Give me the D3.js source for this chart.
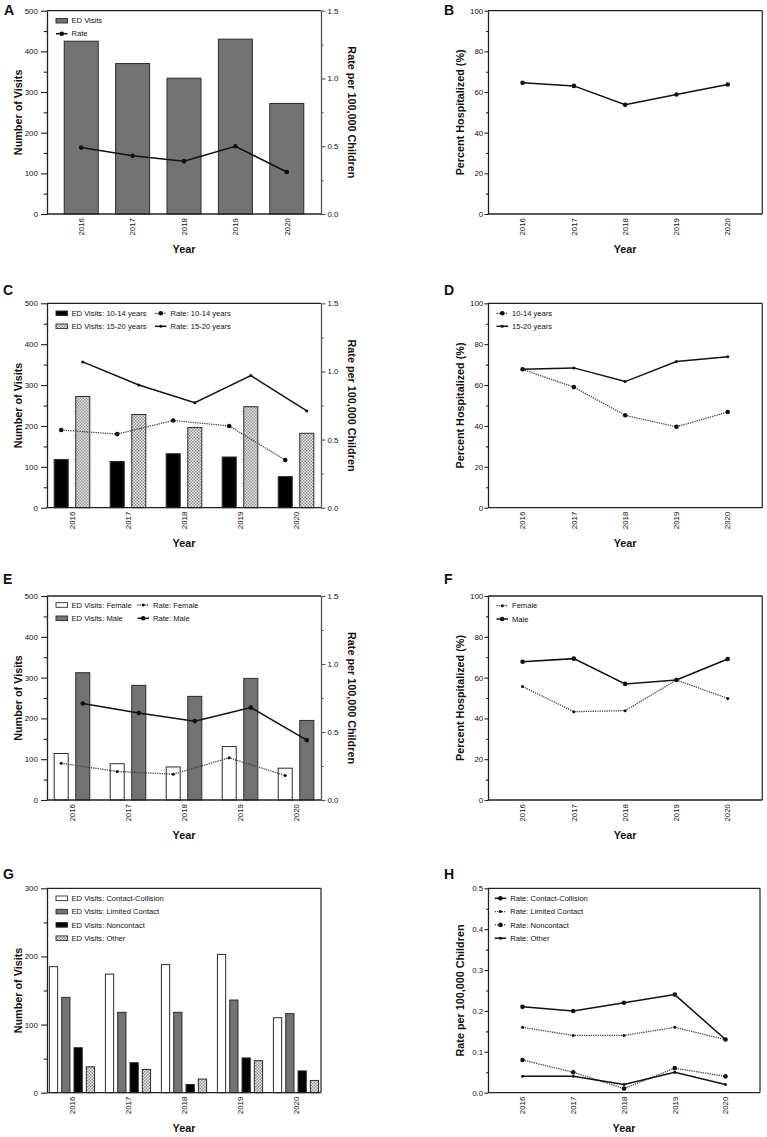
<!DOCTYPE html>
<html><head><meta charset="utf-8">
<script src="https://cdn.jsdelivr.net/npm/d3@7"></script>
<style>
body{margin:0;background:#fff}
text{font-family:"Liberation Sans",Arial,Helvetica,sans-serif;fill:#111}
</style>
</head><body>
<svg id="c" width="767" height="1137"></svg>
<script>
// ---------- data ----------
const years = ["2016","2017","2018","2019","2020"];
// A
const visitsA = [425, 370, 334, 430, 272];
const rateA = [0.49, 0.43, 0.39, 0.50, 0.31];
// B
const hospB = [64.5, 63.0, 53.7, 58.8, 63.7];
// C
const visits1014 = [118, 113, 132, 124, 76];
const visits1520 = [272, 228, 196, 247, 182];
const rate1014 = [0.57, 0.54, 0.64, 0.60, 0.35];
const rate1520 = [1.07, 0.90, 0.77, 0.97, 0.71];
// D
const hosp1014 = [67.7, 59.0, 45.2, 39.6, 46.8];
const hosp1520 = [67.7, 68.4, 61.7, 71.5, 73.9];
// E
const visitsFemale = [114, 89, 81, 131, 78];
const visitsMale = [312, 281, 254, 298, 195];
const rateFemale = [0.27, 0.21, 0.19, 0.31, 0.18];
const rateMale = [0.71, 0.64, 0.58, 0.68, 0.44];
// F
const hospFemale = [55.6, 43.3, 43.8, 58.8, 49.8];
const hospMale = [67.8, 69.3, 56.9, 58.8, 69.1];
// G
const visitsCC = [185, 174, 188, 203, 110];
const visitsLC = [140, 118, 118, 136, 116];
const visitsNC = [66, 44, 12, 51, 32];
const visitsOther = [38, 34, 20, 47, 18];
// H
const rateCC = [0.21, 0.20, 0.22, 0.24, 0.13];
const rateLC = [0.16, 0.14, 0.14, 0.16, 0.13];
const rateNC = [0.08, 0.05, 0.01, 0.06, 0.04];
const rateOther = [0.04, 0.04, 0.02, 0.05, 0.02];

// ---------- styles ----------
const svg = d3.select("#c");
const defs = svg.append("defs");
const pat = defs.append("pattern").attr("id","dots").attr("patternUnits","userSpaceOnUse")
  .attr("width",3).attr("height",3);
pat.append("rect").attr("width",3).attr("height",3).attr("fill","#f0f0f0");
pat.append("rect").attr("width",1.5).attr("height",1.5).attr("fill","#8c8c8c");
pat.append("rect").attr("x",1.5).attr("y",1.5).attr("width",1.5).attr("height",1.5).attr("fill","#8c8c8c");

const barFill = {gray:"#737373", white:"#ffffff", black:"#000000", dots:"url(#dots)"};
const lineSt = {
  solidBig:{dash:null, color:"#111", w:1.5, r:2.3},
  solidSmall:{dash:null, color:"#111", w:1.5, r:1.5},
  dotBig:{dash:"1.3,1", color:"#444", w:1.3, r:2.3},
  dotSmall:{dash:"1.3,1", color:"#444", w:1.3, r:1.5}
};
const TICK_FS = "7.9px", TITLE_FS = "10.8px", LEG_FS = "7.6px";

// ---------- panels ----------
const panels = [
  {letter:"A", lx:4, ly:15, x0:47, x1:321, y0:10.7, y1:214, xPad:0.666,
   yMax:500, yMaj:100, yMin:50, yFmt:"d", yTitle:"Number of Visits", yTitleX:22, tick:6, pad:3.2,
   rMax:1.5, rMaj:0.5, rMin:0.25, rFmt:".1f", rTitle:"Rate per 100,000 Children",
   inner:[-17,17], pIn:0,
   bars:[{v:visitsA, s:"gray", label:"ED Visits"}],
   lines:[{v:rateA, s:"solidBig", label:"Rate", right:true}],
   legend:[{k:"bar",i:0,x:56,y:20.7},{k:"line",i:0,x:56,y:33.7}]},
  {letter:"B", lx:444, ly:15, x0:488, x1:762.3, y0:10.7, y1:214, xPad:0.674,
   yMax:100, yMaj:20, yMin:10, yFmt:"d", yTitle:"Percent Hospitalized (%)", yTitleX:464, tick:3.5, pad:1.3,
   bars:[], lines:[{v:hospB, s:"solidBig", label:""}], legend:[]},
  {letter:"C", lx:3, ly:295, x0:47, x1:321, y0:303.3, y1:507.7, xPad:0.446,
   yMax:500, yMaj:100, yMin:50, yFmt:"d", yTitle:"Number of Visits", yTitleX:22, tick:6, pad:3.2,
   rMax:1.5, rMaj:0.5, rMin:0.25, rFmt:".1f", rTitle:"Rate per 100,000 Children",
   inner:[-17.8,17.8], pIn:0.35,
   bars:[{v:visits1014, s:"black", label:"ED Visits: 10-14 years"},
         {v:visits1520, s:"dots", label:"ED Visits: 15-20 years"}],
   lines:[{v:rate1014, s:"dotBig", label:"Rate: 10-14 years", right:true, bar:0},
          {v:rate1520, s:"solidSmall", label:"Rate: 15-20 years", right:true, bar:1}],
   legend:[{k:"bar",i:0,x:56,y:313.3},{k:"bar",i:1,x:56,y:326.3},
           {k:"line",i:0,x:155,y:313.3},{k:"line",i:1,x:155,y:326.3}]},
  {letter:"D", lx:444, ly:295, x0:488, x1:762.3, y0:303.3, y1:507.7, xPad:0.674,
   yMax:100, yMaj:20, yMin:10, yFmt:"d", yTitle:"Percent Hospitalized (%)", yTitleX:464, tick:3.5, pad:1.3,
   bars:[], lines:[{v:hosp1014, s:"dotBig", label:"10-14 years"},{v:hosp1520, s:"solidSmall", label:"15-20 years"}],
   legend:[{k:"line",i:0,x:496.5,y:313.3},{k:"line",i:1,x:496.5,y:326.3}]},
  {letter:"E", lx:3, ly:584, x0:47, x1:321, y0:596, y1:800, xPad:0.446,
   yMax:500, yMaj:100, yMin:50, yFmt:"d", yTitle:"Number of Visits", yTitleX:22, tick:6, pad:3.2,
   rMax:1.5, rMaj:0.5, rMin:0.25, rFmt:".1f", rTitle:"Rate per 100,000 Children",
   inner:[-17.8,17.8], pIn:0.35,
   bars:[{v:visitsFemale, s:"white", label:"ED Visits: Female"},
         {v:visitsMale, s:"gray", label:"ED Visits: Male"}],
   lines:[{v:rateFemale, s:"dotSmall", label:"Rate: Female", right:true, bar:0},
          {v:rateMale, s:"solidBig", label:"Rate: Male", right:true, bar:1}],
   legend:[{k:"bar",i:0,x:56,y:605},{k:"bar",i:1,x:56,y:618.3},
           {k:"line",i:0,x:137.5,y:605},{k:"line",i:1,x:137.5,y:618.3}]},
  {letter:"F", lx:444, ly:584, x0:488, x1:762.3, y0:596, y1:800, xPad:0.674,
   yMax:100, yMaj:20, yMin:10, yFmt:"d", yTitle:"Percent Hospitalized (%)", yTitleX:464, tick:3.5, pad:1.3,
   bars:[], lines:[{v:hospFemale, s:"dotSmall", label:"Female"},{v:hospMale, s:"solidBig", label:"Male"}],
   legend:[{k:"line",i:0,x:496.5,y:605.7},{k:"line",i:1,x:496.5,y:619}]},
  {letter:"G", lx:3, ly:879, x0:47, x1:321, y0:888.3, y1:1092.7, xPad:0.446,
   yMax:300, yMaj:100, yMin:50, yFmt:"d", yTitle:"Number of Visits", yTitleX:22, tick:6, pad:3.2, noRight:true,
   inner:[-22.6,22.6], pIn:0.33,
   bars:[{v:visitsCC, s:"white", label:"ED Visits: Contact-Collision"},
         {v:visitsLC, s:"gray", label:"ED Visits: Limited Contact"},
         {v:visitsNC, s:"black", label:"ED Visits: Noncontact"},
         {v:visitsOther, s:"dots", label:"ED Visits: Other"}],
   lines:[],
   legend:[{k:"bar",i:0,x:56,y:898.3},{k:"bar",i:1,x:56,y:911.6},{k:"bar",i:2,x:56,y:924.9},{k:"bar",i:3,x:56,y:938.2}]},
  {letter:"H", lx:444, ly:879, x0:488, x1:760, y0:888.3, y1:1092.7, xPad:0.68,
   yMax:0.5, yMaj:0.1, yMin:0.05, yFmt:".1f", yTitle:"Rate per 100,000 Children", yTitleX:464, tick:3.5, pad:1.3,
   bars:[], lines:[{v:rateCC, s:"solidBig", label:"Rate: Contact-Collision"},
                   {v:rateLC, s:"dotSmall", label:"Rate: Limited Contact"},
                   {v:rateNC, s:"dotBig", label:"Rate: Noncontact"},
                   {v:rateOther, s:"solidSmall", label:"Rate: Other"}],
   legend:[{k:"line",i:0,x:494.7,y:898.3},{k:"line",i:1,x:494.7,y:911.6},{k:"line",i:2,x:494.7,y:924.9},{k:"line",i:3,x:494.7,y:938.2}]}
];

function styleAxis(g, color){
  g.selectAll(".domain").attr("stroke",color).attr("stroke-width",1.3);
  g.selectAll(".tick line").attr("stroke",color).attr("stroke-width",1.1);
  g.selectAll(".tick text").attr("font-size",TICK_FS).attr("fill","#111")
    .attr("font-family",'"Liberation Sans",Arial,sans-serif');
}

function drawLine(g, pts, st){
  g.append("path").attr("d", d3.line()(pts)).attr("fill","none")
    .attr("stroke", st.color).attr("stroke-width", st.w)
    .attr("stroke-dasharray", st.dash);
  pts.forEach(p => g.append("circle").attr("cx",p[0]).attr("cy",p[1]).attr("r",st.r).attr("fill","#111"));
}

panels.forEach(p => {
  const g = svg.append("g");
  const x = d3.scalePoint().domain(years).range([p.x0, p.x1]).padding(p.xPad);
  const y = d3.scaleLinear().domain([0, p.yMax]).range([p.y1, p.y0]);
  const hasR = p.rMax !== undefined;
  const r = hasR ? d3.scaleLinear().domain([0, p.rMax]).range([p.y1, p.y0]) : null;
  const inner = p.bars.length ? d3.scaleBand().domain(d3.range(p.bars.length)).range(p.inner).paddingInner(p.pIn) : null;

  // bars
  p.bars.forEach((b, bi) => {
    g.selectAll(null).data(b.v).join("rect")
      .attr("x", (d,i) => x(years[i]) + inner(bi))
      .attr("width", inner.bandwidth())
      .attr("y", d => y(d)).attr("height", d => y(0) - y(d))
      .attr("fill", barFill[b.s]).attr("stroke","#2b2b2b").attr("stroke-width",1);
  });

  // frame
  g.append("line").attr("x1",p.x0).attr("x2",p.x1).attr("y1",p.y0).attr("y2",p.y0).attr("stroke","#222").attr("stroke-width",1.3);
  g.append("line").attr("x1",p.x0).attr("x2",p.x1).attr("y1",p.y1).attr("y2",p.y1).attr("stroke","#222").attr("stroke-width",1.3);
  if (!hasR) g.append("line").attr("x1",p.x1).attr("x2",p.x1).attr("y1",p.y0).attr("y2",p.y1).attr("stroke","#333").attr("stroke-width",1.3);

  // left axis
  const eps = p.yMaj/1000;
  const majL = d3.range(0, p.yMax + eps, p.yMaj);
  const minL = d3.range(p.yMin, p.yMax, p.yMaj);
  const gl = g.append("g").attr("transform",`translate(${p.x0},0)`)
    .call(d3.axisLeft(y).tickValues(majL).tickFormat(d3.format(p.yFmt)).tickSize(p.tick).tickSizeOuter(0).tickPadding(p.pad));
  styleAxis(gl, "#222");
  const glm = g.append("g").attr("transform",`translate(${p.x0},0)`)
    .call(d3.axisLeft(y).tickValues(minL).tickFormat("").tickSize(p.tick*0.55).tickSizeOuter(0));
  glm.select(".domain").remove(); styleAxis(glm, "#222");

  if (hasR) {
    const majR = d3.range(0, p.rMax + 0.001, p.rMaj);
    const minR = d3.range(p.rMin, p.rMax, p.rMaj);
    const gr = g.append("g").attr("transform",`translate(${p.x1},0)`)
      .call(d3.axisRight(r).tickValues(majR).tickFormat(d3.format(p.rFmt)).tickSize(4.5).tickSizeOuter(0).tickPadding(2));
    styleAxis(gr, "#555");
    const grm = g.append("g").attr("transform",`translate(${p.x1},0)`)
      .call(d3.axisRight(r).tickValues(minR).tickFormat("").tickSize(2.5).tickSizeOuter(0));
    grm.select(".domain").remove(); styleAxis(grm, "#555");
    g.append("text").attr("transform",`translate(${p.x1+27},${(p.y0+p.y1)/2}) rotate(90)`)
      .attr("text-anchor","middle").attr("font-size",TITLE_FS).attr("font-weight","bold").text(p.rTitle);
  }

  // x labels
  years.forEach(yr => {
    g.append("text").attr("transform",`translate(${x(yr)},${p.y1+4}) rotate(-90)`)
      .attr("text-anchor","end").attr("dy","0.35em").attr("font-size",TICK_FS).text(yr);
  });
  g.append("text").attr("x",(p.x0+p.x1)/2).attr("y",p.y1+39).attr("text-anchor","middle")
    .attr("font-size",TITLE_FS).attr("font-weight","bold").text("Year");
  g.append("text").attr("transform",`translate(${p.yTitleX},${(p.y0+p.y1)/2}) rotate(-90)`)
    .attr("text-anchor","middle").attr("font-size",TITLE_FS).attr("font-weight","bold").text(p.yTitle);
  g.append("text").attr("x",p.lx).attr("y",p.ly).attr("font-size","14px").attr("font-weight","bold").text(p.letter);

  // lines
  p.lines.forEach(l => {
    const ys = l.right ? r : y;
    const pts = l.v.map((d,i) => {
      let cx = x(years[i]);
      if (l.bar !== undefined) cx += inner(l.bar) + inner.bandwidth()/2;
      return [cx, ys(d)];
    });
    drawLine(g, pts, lineSt[l.s]);
  });

  // legend
  p.legend.forEach(it => {
    if (it.k === "bar") {
      const b = p.bars[it.i];
      g.append("rect").attr("x",it.x).attr("y",it.y-2.3).attr("width",11.5).attr("height",4.6)
        .attr("fill",barFill[b.s]).attr("stroke","#2b2b2b").attr("stroke-width",0.9);
      g.append("text").attr("x",it.x+15.5).attr("y",it.y).attr("dy","0.35em").attr("font-size",LEG_FS).text(b.label);
    } else {
      const l = p.lines[it.i];
      const st = lineSt[l.s];
      drawLine(g, [[it.x, it.y],[it.x+11.5, it.y]], Object.assign({}, st, {r:0}));
      g.append("circle").attr("cx",it.x+5.75).attr("cy",it.y).attr("r",st.r).attr("fill","#111");
      g.append("text").attr("x",it.x+15.5).attr("y",it.y).attr("dy","0.35em").attr("font-size",LEG_FS).text(l.label);
    }
  });
});
</script>
</body></html>
